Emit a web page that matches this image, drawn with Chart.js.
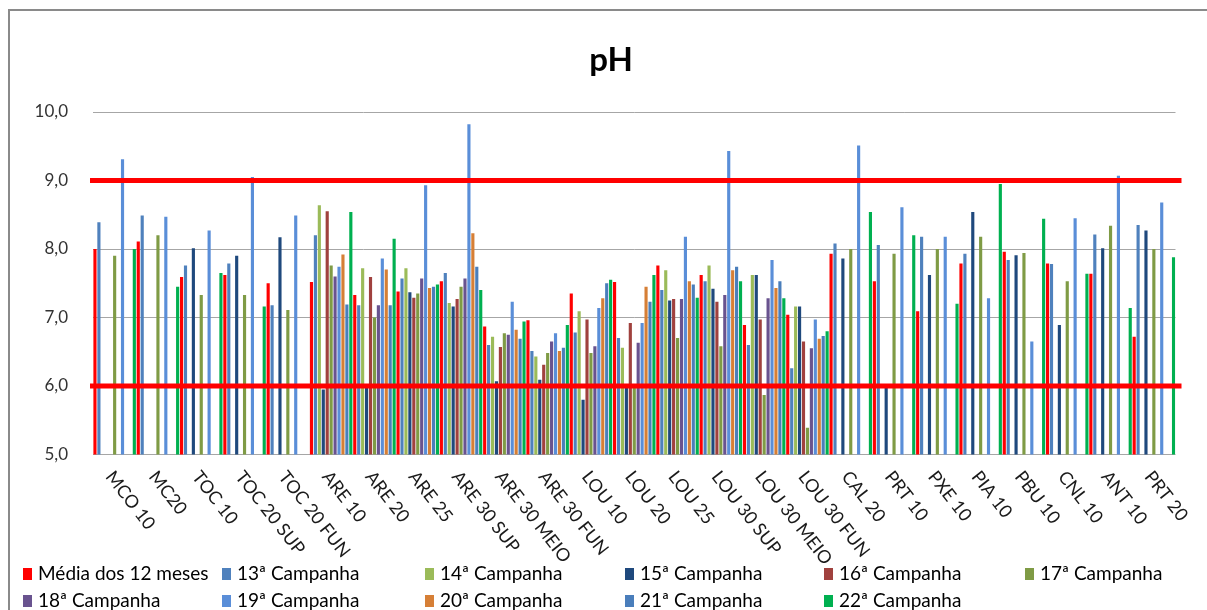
<!DOCTYPE html>
<html lang="pt">
<head>
<meta charset="utf-8">
<title>pH</title>
<script src="https://cdn.jsdelivr.net/npm/chart.js@4.4.1/dist/chart.umd.min.js"></script>
<style>
  html, body { margin: 0; padding: 0; background: #fff; }
  #wrap { position: relative; width: 1207px; height: 610px; overflow: hidden; }
</style>
</head>
<body>
<div id="wrap"><canvas id="grafico-ph"></canvas></div>
<script>
// pH por ponto de coleta: média dos 12 meses + campanhas 13ª a 22ª.
// Valores; null = ponto sem coleta na campanha.

const pontos = [
  "MCO 10", "MC20", "TOC 10", "TOC 20 SUP", "TOC 20 FUN",
  "ARE 10", "ARE 20", "ARE 25", "ARE 30 SUP", "ARE 30 MEIO", "ARE 30 FUN",
  "LOU 10", "LOU 20", "LOU 25", "LOU 30 SUP", "LOU 30 MEIO", "LOU 30 FUN",
  "CAL 20", "PRT 10", "PXE 10", "PIA 10", "PBU 10", "CNL 10", "ANT 10", "PRT 20",
];

const mediaDozeMeses = [8.00, 8.11, 7.59, 7.62, 7.50, 7.52, 7.33, 7.38, 7.53, 6.87, 6.96, 7.35, 7.52, 7.76, 7.62, 6.89, 7.04, 7.93, 7.53, 7.09, 7.79, 7.96, 7.79, 7.64, 6.72];
const campanha13 = [8.39, 8.49, 7.76, 7.79, 7.18, 8.20, 7.18, 7.57, 7.65, 6.60, 6.51, 6.78, 6.70, 7.40, 7.53, 6.60, 6.26, 8.08, 8.06, 8.18, 7.93, 7.84, 7.78, 8.21, 8.35];
const campanha14 = [null, null, null, null, null, 8.64, 7.72, 7.72, 7.21, 6.72, 6.43, 7.09, 6.56, 7.69, 7.76, 7.62, 7.16, null, null, null, null, null, null, null, null];
const campanha15 = [null, null, 8.01, 7.90, 8.17, 5.95, 5.98, 7.37, 7.16, 6.07, 6.09, 5.80, 5.98, 7.25, 7.42, 7.62, 7.16, 7.86, 5.98, 7.62, 8.54, 7.91, 6.89, 8.01, 8.27];
const campanha16 = [null, null, null, null, null, 8.55, 7.59, 7.29, 7.27, 6.57, 6.31, 6.97, 6.92, 7.27, 7.23, 6.97, 6.65, null, null, null, null, null, null, null, null];
const campanha17 = [7.90, 8.20, 7.33, 7.33, 7.11, 7.76, 7.00, 7.35, 7.45, 6.77, 6.48, 6.48, 6.00, 6.70, 6.58, 5.87, 5.39, 8.00, 7.93, 8.00, 8.18, 7.94, 7.53, 8.34, 8.00];
const campanha18 = [null, null, null, null, null, 7.60, 7.18, 7.57, 7.57, 6.75, 6.65, 6.58, 6.63, 7.27, 7.33, 7.28, 6.55, null, null, null, null, null, null, null, null];
const campanha19 = [9.31, 8.47, 8.27, 9.05, 8.49, 7.74, 7.86, 8.93, 9.82, 7.23, 6.77, 7.14, 6.92, 8.18, 9.43, 7.84, 6.97, 9.51, 8.61, 8.18, 7.28, 6.65, 8.45, 9.07, 8.68];
const campanha20 = [null, null, null, null, null, 7.92, 7.70, 7.43, 8.23, 6.82, 6.51, 7.28, 7.45, 7.53, 7.69, 7.43, 6.69, null, null, null, null, null, null, null, null];
const campanha21 = [null, null, null, null, null, 7.19, 7.18, 7.45, 7.74, 6.69, 6.56, 7.50, 7.23, 7.48, 7.74, 7.53, 6.73, null, null, null, null, null, null, null, null];
const campanha22 = [8.00, 7.45, 7.65, 7.16, null, 8.54, 8.15, 7.48, 7.40, 6.94, 6.89, 7.55, 7.62, 7.29, 7.53, 7.28, 6.80, 8.54, 8.20, 7.20, 8.95, 8.44, 7.64, 7.14, 7.88];

const ticksY = [5, 6, 7, 8, 9, 10];
const limitesPh = [6, 9];

const FONTE = "Lato, 'Open Sans', sans-serif";

const series = [
  { label: "Média dos 12 meses", data: mediaDozeMeses, cor: "#FF0000" },
  { label: "13ª Campanha", data: campanha13, cor: "#4F81BD" },
  { label: "14ª Campanha", data: campanha14, cor: "#9BBB59" },
  { label: "15ª Campanha", data: campanha15, cor: "#1F497D" },
  { label: "16ª Campanha", data: campanha16, cor: "#A0413E" },
  { label: "17ª Campanha", data: campanha17, cor: "#7F9B45" },
  { label: "18ª Campanha", data: campanha18, cor: "#69538F" },
  { label: "19ª Campanha", data: campanha19, cor: "#5A8ED8" },
  { label: "20ª Campanha", data: campanha20, cor: "#D67F36" },
  { label: "21ª Campanha", data: campanha21, cor: "#4A7EBB" },
  { label: "22ª Campanha", data: campanha22, cor: "#00B050" },
];

// moldura cinza (só aparecem as bordas de cima e da esquerda) + título
const moldura = {
  id: "moldura",
  beforeDraw(chart) {
    const { ctx, width, height } = chart;
    ctx.save();
    ctx.fillStyle = "#fff";
    ctx.fillRect(0, 0, width, height);
    ctx.strokeStyle = "#8a8a8a";
    ctx.lineWidth = 2;
    ctx.strokeRect(9, 10, width + 20, height + 20);
    ctx.font = `bold 33px ${FONTE}`;
    ctx.fillStyle = "#000";
    ctx.textAlign = "center";
    ctx.textBaseline = "middle";
    ctx.fillText("pH", 611, 60);
    ctx.restore();
  },
};

// faixas de referência do pH (6,0 e 9,0) por cima das barras
const linhasLimite = {
  id: "linhasLimite",
  afterDatasetsDraw(chart) {
    const { ctx, chartArea, scales } = chart;
    ctx.save();
    ctx.strokeStyle = "#FF0000";
    ctx.lineWidth = 5;
    limitesPh.forEach((v) => {
      const y = scales.y.getPixelForValue(v);
      ctx.beginPath();
      ctx.moveTo(chartArea.left - 3, y);
      ctx.lineTo(chartArea.right + 6, y);
      ctx.stroke();
    });
    ctx.restore();
  },
};

// rótulos do eixo x inclinados para baixo/direita, como no Excel
const rotulosX = {
  id: "rotulosX",
  afterDraw(chart) {
    const { ctx, scales } = chart;
    const x = scales.x;
    ctx.save();
    ctx.font = `18px ${FONTE}`;
    ctx.fillStyle = "#1a1a1a";
    ctx.textAlign = "left";
    ctx.textBaseline = "alphabetic";
    pontos.forEach((nome, i) => {
      const cx = x.getPixelForTick(i);
      ctx.save();
      ctx.translate(cx - 10, 477);
      ctx.rotate((52 * Math.PI) / 180);
      ctx.fillText(nome, 0, 0);
      ctx.restore();
    });
    ctx.restore();
  },
};

// legenda em grade de 6 colunas, igual à do original
const legendaGrade = {
  id: "legendaGrade",
  afterDraw(chart) {
    const { ctx } = chart;
    const colunas = [23, 222, 425, 625, 824, 1025];
    const linhas = [574, 601];
    ctx.save();
    ctx.font = `19px ${FONTE}`;
    ctx.textBaseline = "middle";
    ctx.textAlign = "left";
    chart.data.datasets.forEach((ds, i) => {
      const cx = colunas[i % 6];
      const cy = linhas[Math.floor(i / 6)];
      ctx.fillStyle = ds.backgroundColor;
      ctx.fillRect(cx, cy - 6, 9, 12);
      ctx.fillStyle = "#000";
      ctx.fillText(ds.label, cx + 15, cy);
    });
    ctx.restore();
  },
};

new Chart(document.getElementById("grafico-ph"), {
  type: "bar",
  data: {
    labels: pontos,
    datasets: series.map((s) => ({
      label: s.label,
      data: s.data,
      backgroundColor: s.cor,
      borderWidth: 0,
      categoryPercentage: 1,
      barPercentage: 0.8,
    })),
  },
  options: {
    responsive: true,
    maintainAspectRatio: false,
    animation: false,
    layout: { padding: { left: 12, right: 31.5, top: 112, bottom: 0 } },
    scales: {
      x: {
        ticks: { display: false },
        grid: { display: false },
        border: { display: false },
        afterFit: (s) => { s.height = 155.5; },
      },
      y: {
        min: ticksY[0],
        max: ticksY[ticksY.length - 1],
        afterBuildTicks: (s) => { s.ticks = ticksY.map((v) => ({ value: v })); },
        ticks: {
          padding: 25,
          color: "#333",
          font: { size: 17, family: FONTE },
          callback: (v) => Number(v).toFixed(1).replace(".", ","),
        },
        grid: { color: "#a6a6a6", lineWidth: 1, drawTicks: false },
        border: { display: false },
        afterFit: (s) => { s.width = 81; },
      },
    },
    plugins: {
      legend: { display: false },
      tooltip: { enabled: false },
      title: { display: false },
    },
  },
  plugins: [moldura, linhasLimite, rotulosX, legendaGrade],
});
</script>
</body>
</html>
